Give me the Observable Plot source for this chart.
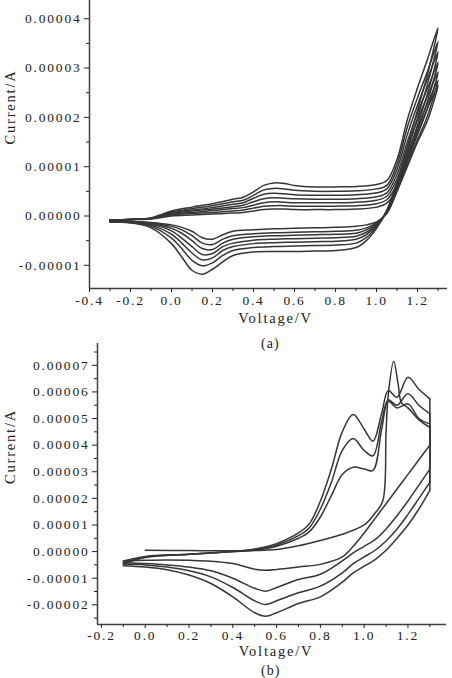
<!DOCTYPE html>
<html><head><meta charset="utf-8">
<script src="https://cdn.jsdelivr.net/npm/d3@7"></script>
<script src="https://cdn.jsdelivr.net/npm/@observablehq/plot@0.6"></script>
<style>
html,body{margin:0;padding:0;background:#fff;}
#wrap{position:relative;width:452px;height:678px;overflow:hidden;font-family:"Liberation Serif","Times New Roman",serif;color:#222;}
#wrap svg{position:absolute;left:0;}
.cap{position:absolute;font-size:14px;letter-spacing:1px;line-height:16px;color:#222;}
</style></head><body><div id="wrap"></div>
<script>
// ---------- Panel (a): 7 cycles, currents in units of 1e-5 A ----------
const voltsAFwd = [-0.3,-0.2,-0.1,0.0,0.1,0.2,0.3,0.35,0.4,0.45,0.5,0.55,0.6,0.7,0.8,0.9,1.0,1.05,1.1,1.15,1.2,1.25,1.3];
const currentAFwd = [
  [-0.08,-0.07,-0.04,0.10,0.18,0.25,0.34,0.38,0.49,0.62,0.67,0.66,0.62,0.59,0.59,0.60,0.64,0.72,1.15,1.95,2.60,3.20,3.82],
  [-0.08,-0.07,-0.04,0.08,0.15,0.21,0.29,0.32,0.42,0.53,0.56,0.55,0.52,0.50,0.50,0.51,0.55,0.62,1.05,1.80,2.40,2.95,3.54],
  [-0.08,-0.07,-0.05,0.07,0.12,0.17,0.24,0.27,0.36,0.44,0.46,0.45,0.43,0.42,0.42,0.43,0.47,0.55,0.95,1.65,2.25,2.80,3.33],
  [-0.08,-0.07,-0.05,0.05,0.10,0.14,0.19,0.22,0.29,0.35,0.37,0.36,0.35,0.34,0.34,0.35,0.39,0.47,0.85,1.50,2.10,2.60,3.12],
  [-0.08,-0.07,-0.05,0.04,0.07,0.11,0.15,0.17,0.22,0.27,0.29,0.28,0.27,0.27,0.27,0.28,0.32,0.40,0.75,1.38,1.95,2.45,2.92],
  [-0.08,-0.07,-0.05,0.02,0.05,0.07,0.10,0.12,0.16,0.20,0.21,0.21,0.20,0.20,0.20,0.21,0.25,0.33,0.65,1.25,1.80,2.30,2.75],
  [-0.08,-0.07,-0.06,0.00,0.02,0.04,0.06,0.07,0.10,0.13,0.14,0.14,0.13,0.13,0.13,0.14,0.18,0.26,0.55,1.15,1.70,2.20,2.65]
];
const voltsARev = [1.25,1.2,1.15,1.1,1.05,1.0,0.95,0.9,0.8,0.7,0.6,0.5,0.4,0.3,0.25,0.2,0.15,0.1,0.05,0.0,-0.1,-0.2,-0.3];
const currentARev = [
  [2.90,2.15,1.40,0.70,0.12,-0.25,-0.50,-0.64,-0.70,-0.71,-0.72,-0.72,-0.73,-0.80,-0.93,-1.08,-1.18,-1.10,-0.83,-0.56,-0.24,-0.14,-0.12],
  [2.70,2.00,1.30,0.65,0.10,-0.22,-0.44,-0.55,-0.59,-0.60,-0.61,-0.62,-0.64,-0.70,-0.80,-0.95,-1.01,-0.90,-0.66,-0.45,-0.21,-0.13,-0.12],
  [2.50,1.85,1.20,0.60,0.10,-0.20,-0.38,-0.47,-0.51,-0.52,-0.53,-0.54,-0.56,-0.62,-0.70,-0.85,-0.89,-0.75,-0.55,-0.37,-0.19,-0.13,-0.12],
  [2.35,1.75,1.15,0.58,0.08,-0.18,-0.33,-0.41,-0.44,-0.45,-0.46,-0.47,-0.49,-0.55,-0.62,-0.76,-0.78,-0.62,-0.45,-0.30,-0.17,-0.12,-0.11],
  [2.20,1.65,1.10,0.55,0.08,-0.16,-0.28,-0.35,-0.37,-0.38,-0.39,-0.40,-0.42,-0.47,-0.55,-0.68,-0.66,-0.50,-0.35,-0.25,-0.15,-0.12,-0.11],
  [2.05,1.55,1.05,0.52,0.06,-0.14,-0.24,-0.29,-0.31,-0.32,-0.33,-0.34,-0.36,-0.40,-0.47,-0.58,-0.55,-0.40,-0.28,-0.21,-0.14,-0.11,-0.11],
  [1.95,1.50,1.00,0.50,0.05,-0.12,-0.18,-0.21,-0.23,-0.24,-0.25,-0.26,-0.28,-0.31,-0.38,-0.47,-0.44,-0.31,-0.23,-0.18,-0.13,-0.11,-0.10]
];
const xTicksA = [-0.4,-0.2,0.0,0.2,0.4,0.6,0.8,1.0,1.2];
const xMinorA = [-0.3,-0.1,0.1,0.3,0.5,0.7,0.9,1.1,1.3];
const yTicksA = [-0.00001,0,0.00001,0.00002,0.00003,0.00004];
const yMinorA = [-0.000005,0.000005,0.000015,0.000025,0.000035];

// ---------- Panel (b): 4 cycles, currents in units of 1e-5 A ----------
const voltsBFirst = [0.0,0.2,0.4,0.5,0.6,0.7,0.8,0.9,1.0,1.05,1.085,1.1,1.11,1.135,1.155,1.17,1.2,1.25,1.3];
const currentBFirst = [0.05,0.04,0.03,0.04,0.08,0.22,0.42,0.65,1.0,1.45,1.9,4.5,5.9,7.15,6.3,5.6,5.4,4.95,4.67];
const voltsBFwd = [-0.1,0.0,0.2,0.4,0.5,0.6,0.7,0.75,0.8,0.85,0.9,0.95,1.0,1.04,1.08,1.11,1.15,1.2,1.25,1.3];
const currentBFwd = [
  [-0.35,-0.18,-0.1,0.0,0.05,0.2,0.5,0.75,1.3,2.1,2.9,3.17,3.1,3.05,4.6,5.65,5.4,5.55,5.0,4.8],
  [-0.42,-0.2,-0.1,0.0,0.08,0.25,0.6,0.9,1.6,2.6,3.8,4.25,3.8,3.6,4.9,5.7,5.5,5.93,5.5,5.18],
  [-0.47,-0.22,-0.1,0.0,0.1,0.3,0.7,1.05,1.9,3.1,4.5,5.15,4.6,4.15,5.2,6.05,5.8,6.55,6.1,5.74]
];
const voltsBRev = [1.3,1.25,1.2,1.15,1.1,1.05,1.0,0.95,0.9,0.8,0.7,0.6,0.55,0.5,0.4,0.3,0.2,0.1,0.0,-0.1];
const currentBRev = [
  [4.0,3.45,2.9,2.35,1.8,1.25,0.7,0.2,-0.2,-0.48,-0.58,-0.67,-0.7,-0.66,-0.45,-0.36,-0.33,-0.32,-0.33,-0.35],
  [3.1,2.5,1.9,1.35,0.85,0.45,0.2,-0.05,-0.35,-0.85,-1.05,-1.35,-1.49,-1.38,-1.0,-0.72,-0.58,-0.5,-0.45,-0.42],
  [2.6,2.0,1.4,0.85,0.4,0.05,-0.2,-0.45,-0.8,-1.3,-1.55,-1.85,-1.99,-1.85,-1.35,-0.95,-0.72,-0.58,-0.5,-0.47],
  [2.3,1.6,1.0,0.5,0.05,-0.3,-0.55,-0.8,-1.15,-1.7,-1.95,-2.3,-2.43,-2.3,-1.7,-1.2,-0.88,-0.68,-0.58,-0.53]
];
const xTicksB = [-0.2,0.0,0.2,0.4,0.6,0.8,1.0,1.2];
const xMinorB = [-0.1,0.1,0.3,0.5,0.7,0.9,1.1,1.3];
const yTicksB = [-0.00002,-0.00001,0,0.00001,0.00002,0.00003,0.00004,0.00005,0.00006,0.00007];
const yMinorB = [-0.000025,-0.000015,-0.000005,0.000005,0.000015,0.000025,0.000035,0.000045,0.000055,0.000065,0.000075];

const UNIT = 1e-5;
function pts(key, volts, cur) { return volts.map((v, k) => ({key, v, i: cur[k] * UNIT})); }

// panel (a): each cycle is one continuous loop
const dataA = [];
currentAFwd.forEach((c, j) => {
  dataA.push(...pts("a" + j, voltsAFwd, c), ...pts("a" + j, voltsARev, currentARev[j]));
});

// panel (b): forward and reverse sweeps, joined by the vertical switch at the vertex potential
const fwdB = [currentBFirst, ...currentBFwd];
const fwdVB = [voltsBFirst, voltsBFwd, voltsBFwd, voltsBFwd];
const dataB = [];
const switchB = [];
fwdB.forEach((c, j) => {
  dataB.push(...pts("f" + j, fwdVB[j], c), ...pts("r" + j, voltsBRev, currentBRev[j]));
  switchB.push({x1: fwdVB[j][fwdVB[j].length - 1], y1: c[c.length - 1] * UNIT,
                x2: voltsBRev[0], y2: currentBRev[j][0] * UNIT});
});

const LINE = "#363636", AX = "#404040", TXT = "#222";
const baseStyle = {fontFamily: "'Liberation Serif', 'Times New Roman', serif", fontSize: "13.5px", letterSpacing: "1.8px", color: TXT, background: "transparent", overflow: "visible"};
const fmtY = d => d.toFixed(5);
const fmtX = d => d.toFixed(1);

function panel(o) {
  return Plot.plot({
    width: 452, height: o.height,
    marginLeft: o.ml, marginRight: o.mr, marginTop: o.mt, marginBottom: o.mb,
    style: baseStyle,
    x: {domain: o.xd},
    y: {domain: o.yd},
    marks: [
      Plot.line(o.data, {x: "v", y: "i", z: "key", curve: "catmull-rom", stroke: LINE, strokeWidth: 1.5}),
      o.links ? Plot.link(o.links, {x1: "x1", y1: "y1", x2: "x2", y2: "y2", stroke: LINE, strokeWidth: 1.5}) : null,
      Plot.ruleX([o.xd[0]], {stroke: AX, strokeWidth: 1.5}),
      Plot.ruleY([o.yd[0]], {stroke: AX, strokeWidth: 1.5}),
      Plot.axisX(o.xt, {tickFormat: fmtX, tickSize: 4, tickPadding: o.xpad, fill: TXT, label: null}),
      Plot.axisX(o.xm, {tickFormat: () => "", tickSize: 3, label: null}),
      Plot.axisY(o.yt, {tickFormat: fmtY, tickSize: 5, tickPadding: 3, fill: TXT, label: null}),
      Plot.axisY(o.ym, {tickFormat: () => "", tickSize: 3, label: null}),
      Plot.text(["Voltage/V"], {frameAnchor: "bottom", dy: o.vdy, dx: o.vdx, fontSize: 14.5, fill: TXT}),
      Plot.text(["Current/A"], {frameAnchor: "left", dx: 10 - o.ml, rotate: -90, fontSize: 14.5, fill: TXT})
    ]
  });
}

const wrap = document.getElementById("wrap");
const svgA = panel({height: 334, ml: 89, mr: 5, mt: 0, mb: 46, xd: [-0.4, 1.346], yd: [-1.47e-5, 4.37e-5],
  data: dataA, xt: xTicksA, xm: xMinorA, yt: yTicksA, ym: yMinorA, xpad: 3, vdy: 34, vdx: 7});
svgA.style.top = "0px";
wrap.appendChild(svgA);

const capA = document.createElement("div");
capA.className = "cap"; capA.textContent = "(a)";
capA.style.top = "336px"; capA.style.left = "261px";
wrap.appendChild(capA);

const svgB = panel({height: 342, ml: 97, mr: 6, mt: 7, mb: 54, xd: [-0.218, 1.376], yd: [-2.74e-5, 7.82e-5],
  data: dataB, links: switchB, xt: xTicksB, xm: xMinorB, yt: yTicksB, ym: yMinorB, xpad: 2, vdy: 31, vdx: 4});
svgB.style.top = "336px";
wrap.appendChild(svgB);

const capB = document.createElement("div");
capB.className = "cap"; capB.textContent = "(b)";
capB.style.top = "664px"; capB.style.left = "261px"; capB.style.lineHeight = "13px";
wrap.appendChild(capB);
</script></body></html>
